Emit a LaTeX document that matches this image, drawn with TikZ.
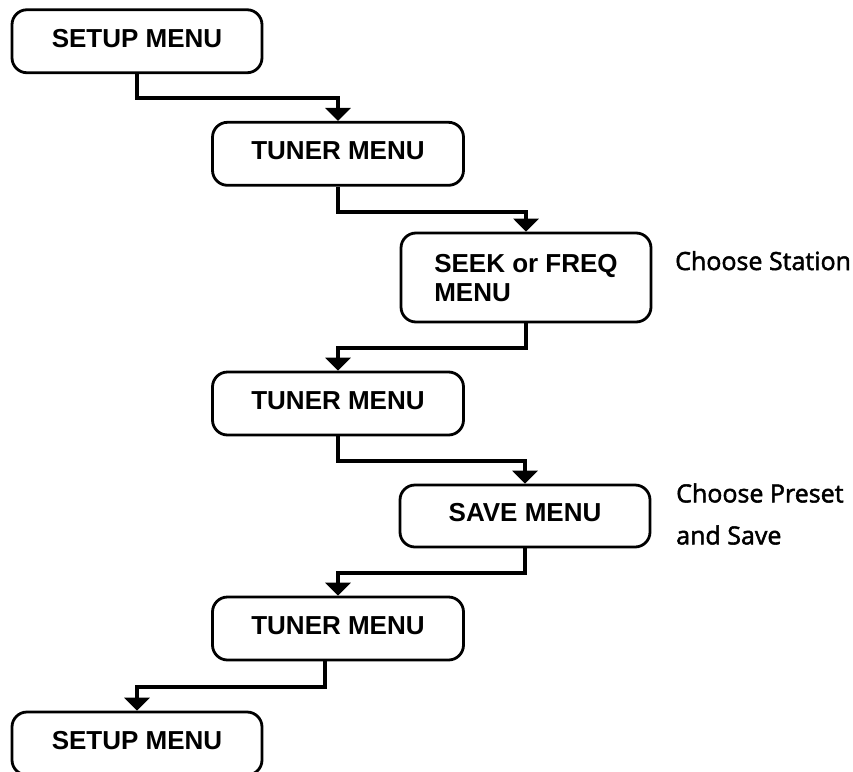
\documentclass[tikz,border=0pt]{standalone}
\usepackage{fontspec}
\usepackage{tikz}
\usetikzlibrary{arrows.meta}
\newfontfamily\boxfont{Liberation Sans}
\newfontfamily\notefont[FakeBold=2]{Open Sans}
\tikzset{
    menubox/.style={draw, rounded corners=15pt, line width=2.8pt, minimum width=250pt, minimum height=63pt, align=left, inner sep=0pt, text depth=6.5pt, font=\boxfont\bfseries\fontsize{26}{29}\selectfont},
    note/.style={align=left, inner sep=0pt, font=\notefont\fontsize{25}{42}\selectfont},
    flow/.style={line width=4pt, -{Triangle[width=25pt, length=13pt]}}}
\begin{document}
\begin{tikzpicture}[x=1pt, y=-1pt]

                    \useasboundingbox (0,0) rectangle (853,771);

                    \node[menubox] (setupA) at (137,41.25) {SETUP MENU};
                    \node[menubox, minimum width=251pt] (tunerA) at (338,153.8) {TUNER MENU};
                    \node[menubox, minimum height=89pt, text depth=0pt] (seek) at (526,277.5) {SEEK or FREQ\\MENU};
                    \node[menubox, minimum width=251pt] (tunerB) at (338,403.5) {TUNER MENU};
                    \node[menubox, minimum height=62pt] (save) at (525,516) {SAVE MENU};
                    \node[menubox, minimum width=251pt] (tunerC) at (338,628.5) {TUNER MENU};
                    \node[menubox] (setupB) at (137,743.5) {SETUP MENU};

                    \node[note, anchor=base west] (station) at (675,270) {Choose Station};
                    \node[note, anchor=west] (preset) at (676,514) {Choose Preset\\and Save};

                    \draw[flow] (setupA.south) -- ++(0,24) -| (tunerA.north);
                    \draw[flow] (tunerA.south) -- ++(0,25) -| (seek.north);
                    \draw[flow] (seek.south) -- ++(0,25) -| (tunerB.north);
                    \draw[flow] (tunerB.south) -- ++(0,25) -| (save.north);
                    \draw[flow] (save.south) -- ++(0,25) -| (tunerC.north);
                    \draw[flow] ([xshift=-13pt]tunerC.south) -- ++(0,26) -| (setupB.north);

                \end{tikzpicture}
\end{document}
